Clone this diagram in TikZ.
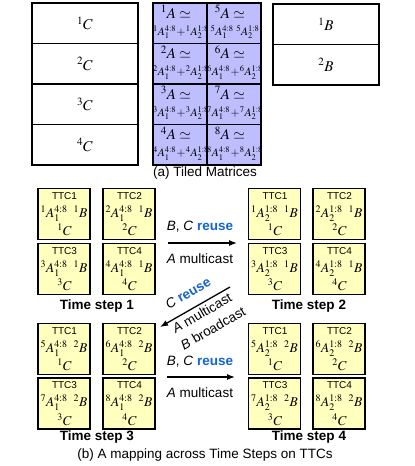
\documentclass[tikz,border=0pt]{standalone}
\usepackage{mathptmx}
\usepackage[no-math]{fontspec}
\setsansfont{Liberation Sans}
\usetikzlibrary{arrows.meta}
\pgfdeclarelayer{fg}
\pgfsetlayers{main,fg}
\definecolor{lav}{RGB}{190,190,255}
\definecolor{ttcy}{RGB}{255,255,190}
\definecolor{reuseblue}{RGB}{20,100,210}
\newcommand{\pscr}[2]{{}^{#1}#2}
\tikzset{
  mbox/.style={draw, line width=1.6pt, minimum width=106pt, minimum height=40.5pt, inner sep=0pt, font=\fontsize{15}{16}\selectfont},
  acellbox/.style={draw, line width=1.6pt, fill=lav, minimum width=54pt, minimum height=40.5pt, inner sep=0pt},
  aone/.style={inner sep=0pt, anchor=base, font=\fontsize{15}{15}\selectfont},
  atwo/.style={inner sep=0pt, anchor=base, font=\fontsize{11.5}{12}\selectfont},
  ttcbox/.style={draw, line width=1.6pt, fill=ttcy, minimum width=52pt, minimum height=51pt, inner sep=0pt},
  ttctitle/.style={inner sep=0pt, anchor=base, font=\sffamily\fontsize{10}{10}\selectfont},
  ttcmath/.style={inner sep=0pt, anchor=base, font=\fontsize{13.5}{14}\selectfont},
  steplbl/.style={font=\sffamily\bfseries\fontsize{13.5}{15}\selectfont},
  captxt/.style={font=\sffamily\fontsize{13.5}{15}\selectfont},
  arrlbl/.style={font=\sffamily\fontsize{13.5}{15}\selectfont, inner sep=0pt},
  arr/.style={line width=1.3pt, -{Latex[length=8pt,width=6pt]}},
}
% A cell: name, x, y, index, operator
\newcommand{\acell}[5]{%
  \node[acellbox] (#1) at (#2,#3) {};
  \begin{pgfonlayer}{fg}
  \node[aone] (#1u) at ({#2-4},{#3-5}) {$\pscr{#4}{A}\simeq$};
  \node[atwo] (#1d) at ({#2+1},{#3+12}) {$\pscr{#4}{A}_1^{4:8}\!#5\!\pscr{#4}{A}_2^{1:8}$};
  \end{pgfonlayer}
}
% TTC: name, x, y, number, A-part, B-part, C-part
\newcommand{\ttc}[7]{%
  \node[ttcbox] (#1) at (#2,#3) {};
  \node[ttctitle] (#1t) at ({#2+0.5},{#3-15}) {TTC#4};
  \node[ttcmath] (#1m) at (#2,{#3+3}) {$#5\;\;#6$};
  \node[ttcmath] (#1c) at ({#2+0.5},{#3+21.5}) {$#7$};
}
\begin{document}
\begin{tikzpicture}[x=1pt,y=-1pt]
\useasboundingbox (0,0) rectangle (415,466);
% C boxes
\node[mbox] (c1) at (85,23.25) {$\pscr{1}{C}$};
\node[mbox] (c2) at (85,63.75) {$\pscr{2}{C}$};
\node[mbox] (c3) at (85,104.25) {$\pscr{3}{C}$};
\node[mbox] (c4) at (85,144.75) {$\pscr{4}{C}$};
% A grid
\acell{a1}{180}{23.25}{1}{+}
\acell{a2}{180}{63.75}{2}{+}
\acell{a3}{180}{104.25}{3}{+}
\acell{a4}{180}{144.75}{4}{+}
\acell{a5}{234}{23.25}{5}{\;\;}
\acell{a6}{234}{63.75}{6}{+}
\acell{a7}{234}{104.25}{7}{+}
\acell{a8}{234}{144.75}{8}{+}
% B boxes
\node[mbox] (b1) at (326,24.25) {$\pscr{1}{B}$};
\node[mbox] (b2) at (326,64.75) {$\pscr{2}{B}$};
\node[captxt] (capa) at (205,173) {(a) Tiled Matrices};
% Time step 1
\ttc{s1t1}{64}{214}{1}{\pscr{1}{A}_1^{4:8}}{\pscr{1}{B}}{\pscr{1}{C}}
\ttc{s1t2}{129}{214}{2}{\pscr{2}{A}_1^{4:8}}{\pscr{1}{B}}{\pscr{2}{C}}
\ttc{s1t3}{64}{269}{3}{\pscr{3}{A}_1^{4:8}}{\pscr{1}{B}}{\pscr{3}{C}}
\ttc{s1t4}{129}{269}{4}{\pscr{4}{A}_1^{4:8}}{\pscr{1}{B}}{\pscr{4}{C}}
\node[steplbl] (l1) at (97,306) {Time step 1};
% Time step 2
\ttc{s2t1}{274.5}{214}{1}{\pscr{1}{A}_2^{1:8}}{\pscr{1}{B}}{\pscr{1}{C}}
\ttc{s2t2}{339}{214}{2}{\pscr{2}{A}_2^{1:8}}{\pscr{1}{B}}{\pscr{2}{C}}
\ttc{s2t3}{274.5}{269}{3}{\pscr{3}{A}_2^{1:8}}{\pscr{1}{B}}{\pscr{3}{C}}
\ttc{s2t4}{339}{269}{4}{\pscr{4}{A}_2^{1:8}}{\pscr{1}{B}}{\pscr{4}{C}}
\node[steplbl] (l2) at (309,306) {Time step 2};
% Time step 3
\ttc{s3t1}{64}{349}{1}{\pscr{5}{A}_1^{4:8}}{\pscr{2}{B}}{\pscr{1}{C}}
\ttc{s3t2}{129}{349}{2}{\pscr{6}{A}_1^{4:8}}{\pscr{2}{B}}{\pscr{2}{C}}
\ttc{s3t3}{64}{403.5}{3}{\pscr{7}{A}_1^{4:8}}{\pscr{2}{B}}{\pscr{3}{C}}
\ttc{s3t4}{129}{403.5}{4}{\pscr{8}{A}_1^{4:8}}{\pscr{2}{B}}{\pscr{4}{C}}
\node[steplbl] (l3) at (97,437) {Time step 3};
% Time step 4
\ttc{s4t1}{274.5}{349}{1}{\pscr{5}{A}_2^{1:8}}{\pscr{2}{B}}{\pscr{1}{C}}
\ttc{s4t2}{339}{349}{2}{\pscr{6}{A}_2^{1:8}}{\pscr{2}{B}}{\pscr{2}{C}}
\ttc{s4t3}{274.5}{403.5}{3}{\pscr{7}{A}_2^{1:8}}{\pscr{2}{B}}{\pscr{3}{C}}
\ttc{s4t4}{339}{403.5}{4}{\pscr{8}{A}_2^{1:8}}{\pscr{2}{B}}{\pscr{4}{C}}
\node[steplbl] (l4) at (309,437) {Time step 4};
\node[captxt] (capb) at (205,455) {(b) A mapping across Time Steps on TTCs};
% arrows
\coordinate (r1s) at (168,243);
\coordinate (r1e) at (237,243);
\draw[arr] (r1s) -- (r1e);
\node[arrlbl] (r1a) at (200,227) {\textit{B}, \textit{C} \textcolor{reuseblue}{\bfseries reuse}};
\node[arrlbl] (r1b) at (200,259) {\textit{A} multicast};
\coordinate (r2s) at (230,287);
\coordinate (r2e) at (160,327);
\draw[arr] (r2s) -- (r2e);
\node[arrlbl, rotate=30] (r2a) at (188,293) {\textit{C} \textcolor{reuseblue}{\bfseries reuse}};
\node[arrlbl, rotate=30] (r2b) at (202,313) {\textit{A} multicast};
\node[arrlbl, rotate=30] (r2c) at (213,328) {\textit{B} broadcast};
\coordinate (r3s) at (167,377);
\coordinate (r3e) at (235,377);
\draw[arr] (r3s) -- (r3e);
\node[arrlbl] (r3a) at (200,362) {\textit{B}, \textit{C} \textcolor{reuseblue}{\bfseries reuse}};
\node[arrlbl] (r3b) at (200,393) {\textit{A} multicast};
\end{tikzpicture}
\end{document}
